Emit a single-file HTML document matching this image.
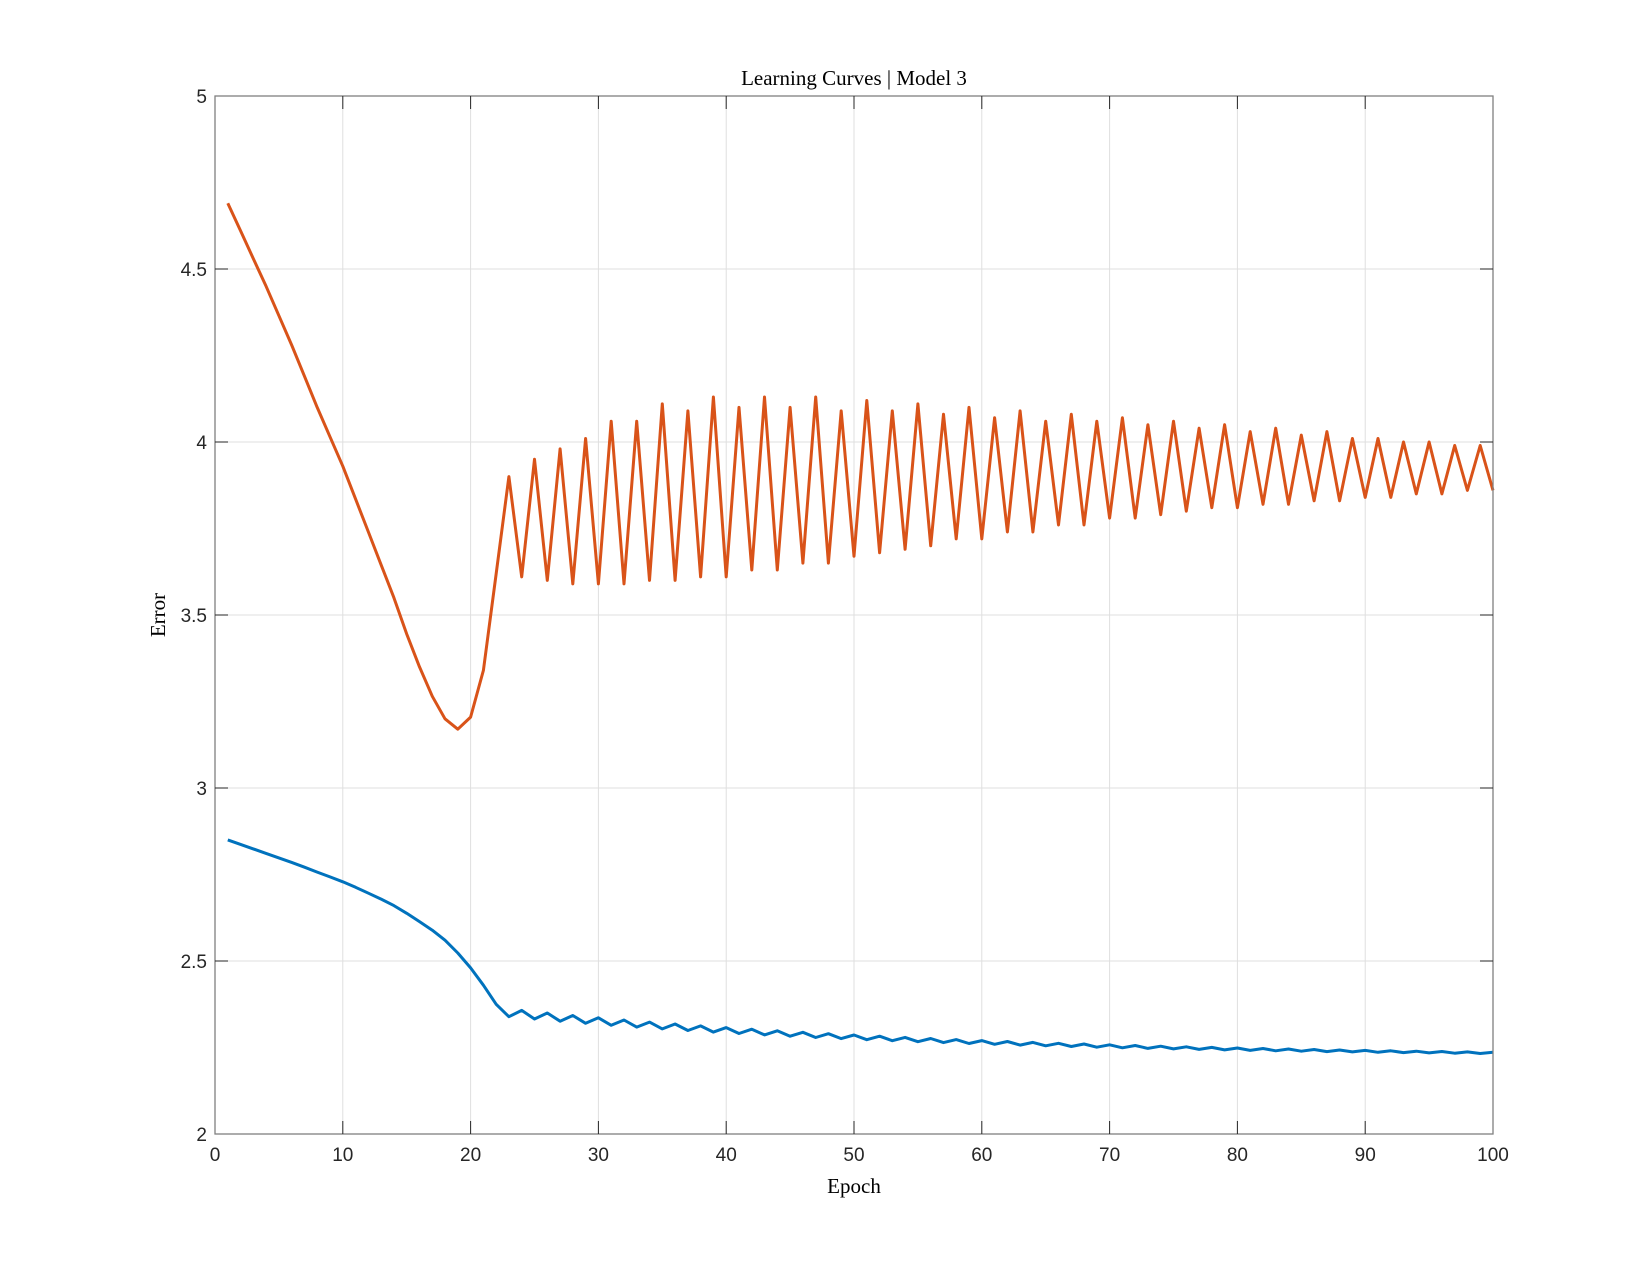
<!DOCTYPE html>
<html><head><meta charset="utf-8"><style>
html,body{margin:0;padding:0;background:#fff;}
svg{display:block;}
</style></head><body>
<svg id="s" width="1650" height="1275" xmlns="http://www.w3.org/2000/svg"></svg>
<script>
const L=215,R=1493,T=96,B=1134;
const X=e=>L+(R-L)*e/100, Y=v=>B-(B-T)*(v-2)/3;
let h='<rect width="1650" height="1275" fill="#fff"/>';
for(let i=10;i<100;i+=10)h+=`<line x1="${X(i)}" y1="${T}" x2="${X(i)}" y2="${B}" stroke="#dfdfdf" stroke-width="1"/>`;
for(let v=2.5;v<5;v+=0.5)h+=`<line x1="${L}" y1="${Y(v)}" x2="${R}" y2="${Y(v)}" stroke="#dfdfdf" stroke-width="1"/>`;
const o={1:4.69,2:4.61,3:4.53,4:4.45,5:4.365,6:4.28,7:4.19,8:4.1,9:4.015,10:3.93,11:3.835,12:3.74,13:3.645,14:3.55,15:3.445,16:3.35,17:3.265,18:3.2,19:3.17,20:3.205,21:3.34,22:3.62};
const hi=[3.9,3.95,3.98,4.01,4.06,4.06,4.11,4.09,4.13,4.1,4.13,4.1,4.13,4.09,4.12,4.09,4.11,4.08,4.1,4.07,4.09,4.06,4.08,4.06,4.07,4.05,4.06,4.04,4.05,4.03,4.04,4.02,4.03,4.01,4.01,4.0,4.0,3.99,3.99];
const lo=[3.61,3.6,3.59,3.59,3.59,3.6,3.6,3.61,3.61,3.63,3.63,3.65,3.65,3.67,3.68,3.69,3.7,3.72,3.72,3.74,3.74,3.76,3.76,3.78,3.78,3.79,3.8,3.81,3.81,3.82,3.82,3.83,3.83,3.84,3.84,3.85,3.85,3.86,3.86];
for(let k=0;k<hi.length;k++){o[23+2*k]=hi[k];o[24+2*k]=lo[k];}
let po=[];for(let e=1;e<=100;e++)po.push(X(e).toFixed(1)+','+Y(o[e]).toFixed(1));
const b={1:2.85,2:2.837,3:2.824,4:2.811,5:2.798,6:2.785,7:2.771,8:2.757,9:2.743,10:2.729,11:2.713,12:2.696,13:2.679,14:2.66,15:2.638,16:2.614,17:2.589,18:2.56,19:2.523,20:2.48,21:2.43,22:2.375};
for(let e=23;e<=100;e++){const base=2.22+0.13*Math.exp(-(e-23)/35);const a=0.011*Math.exp(-(e-23)/45);b[e]=base+((e%2)?-a:a);}
let pb=[];for(let e=1;e<=100;e++)pb.push(X(e).toFixed(1)+','+Y(b[e]).toFixed(1));
h+=`<polyline points="${pb.join(' ')}" fill="none" stroke="#0072BD" stroke-width="3" stroke-linejoin="round"/>`;
h+=`<polyline points="${po.join(' ')}" fill="none" stroke="#D95319" stroke-width="3" stroke-linejoin="round"/>`;
h+=`<rect x="${L}" y="${T}" width="${R-L}" height="${B-T}" fill="none" stroke="#808080" stroke-width="1.3"/>`;
const sf='font-family="Liberation Sans, sans-serif" font-size="19" fill="#262626"';
for(let i=0;i<=100;i+=10){const x=X(i);
 if(i>0&&i<100)h+=`<line x1="${x}" y1="${B}" x2="${x}" y2="${B-13}" stroke="#262626"/><line x1="${x}" y1="${T}" x2="${x}" y2="${T+13}" stroke="#262626"/>`;
 h+=`<text x="${x}" y="${B+27}" text-anchor="middle" ${sf}>${i}</text>`;}
for(let v=2;v<=5.001;v+=0.5){const y=Y(v);
 if(v>2&&v<5)h+=`<line x1="${L}" y1="${y}" x2="${L+13}" y2="${y}" stroke="#262626"/><line x1="${R}" y1="${y}" x2="${R-13}" y2="${y}" stroke="#262626"/>`;
 h+=`<text x="${L-8}" y="${y+7}" text-anchor="end" ${sf}>${v}</text>`;}
const tf='font-family="Liberation Serif, serif" font-size="21" fill="#000"';
h+=`<text x="${(L+R)/2}" y="85" text-anchor="middle" ${tf}>Learning Curves | Model 3</text>`;
h+=`<text x="${(L+R)/2}" y="1193" text-anchor="middle" ${tf}>Epoch</text>`;
h+=`<text transform="translate(165,${(T+B)/2}) rotate(-90)" text-anchor="middle" ${tf}>Error</text>`;
document.getElementById('s').innerHTML=h;
</script>
</body></html>
